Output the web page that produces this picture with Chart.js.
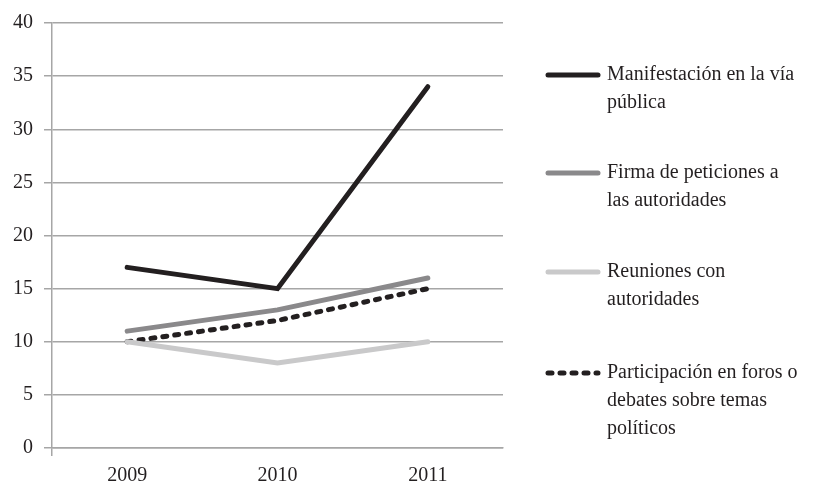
<!DOCTYPE html>
<html>
<head>
<meta charset="utf-8">
<script src="https://cdn.jsdelivr.net/npm/chart.js@4.4.1/dist/chart.umd.min.js"></script>
<style>
  html, body { margin: 0; padding: 0; background: #fff; }
  #wrap { width: 832px; height: 488px; }
</style>
</head>
<body>
<div id="wrap"><canvas id="chartLines"></canvas></div>
<script>
const years = ['2009', '2010', '2011'];

const manifestacion = [17, 15, 34];
const firma = [11, 13, 16];
const reuniones = [10, 8, 10];
const participacion = [10, 12, 15];

const seriesLabels = [
    ['Manifestación en la vía', 'pública'],
    ['Firma de peticiones a', 'las autoridades'],
    ['Reuniones con', 'autoridades'],
    ['Participación en foros o', 'debates sobre temas', 'políticos']
];

const yTicks = [0, 5, 10, 15, 20, 25, 30, 35, 40];

const fontFamily = '"Liberation Serif", "DejaVu Serif", serif';
const textColor = '#231f20';
const gridColor = '#a6a6a6';

// legend drawn by hand, because the labels wrap over several lines
const sideLegend = {
    id: 'sideLegend',
    afterDraw(chart) {
        const ctx = chart.ctx;
        const tops = [75, 173, 272, 373];
        ctx.save();
        ctx.font = '20px ' + fontFamily;
        ctx.textBaseline = 'middle';
        ctx.fillStyle = textColor;
        chart.data.datasets.forEach((ds, i) => {
            const y = tops[i];
            ctx.beginPath();
            ctx.lineWidth = ds.borderWidth;
            ctx.strokeStyle = ds.borderColor;
            ctx.lineCap = ds.borderCapStyle || 'butt';
            ctx.setLineDash(ds.borderDash || []);
            ctx.moveTo(548, y);
            ctx.lineTo(598, y);
            ctx.stroke();
            ctx.setLineDash([]);
            ds.label.forEach((line, j) => {
                ctx.fillText(line, 607, y + j * 28);
            });
        });
        ctx.restore();
    }
};

const configLines = {
    type: 'line',
    data: {
        labels: years,
        datasets: [
            {
                label: seriesLabels[0],
                data: manifestacion,
                borderColor: '#231f20',
                borderWidth: 5,
                borderCapStyle: 'round'
            },
            {
                label: seriesLabels[1],
                data: firma,
                borderColor: '#8a898b',
                borderWidth: 5,
                borderCapStyle: 'round'
            },
            {
                label: seriesLabels[2],
                data: reuniones,
                borderColor: '#c9c9ca',
                borderWidth: 5,
                borderCapStyle: 'round'
            },
            {
                label: seriesLabels[3],
                data: participacion,
                borderColor: '#231f20',
                borderWidth: 5,
                borderCapStyle: 'round',
                borderDash: [4, 8]
            }
        ]
    },
    options: {
        responsive: true,
        maintainAspectRatio: false,
        animation: false,
        events: [],
        elements: {
            point: { radius: 0 },
            line: { tension: 0, borderJoinStyle: 'miter' }
        },
        layout: {
            padding: { top: 22, right: 329, left: 0, bottom: 0 }
        },
        plugins: {
            legend: { display: false },
            tooltip: { enabled: false }
        },
        scales: {
            x: {
                offset: true,
                afterFit: s => { s.height = 40; },
                border: { color: gridColor, width: 1.5 },
                grid: {
                    offset: true,
                    drawOnChartArea: false,
                    tickLength: 8,
                    color: c => (c.index === 0 || c.index === years.length) ? gridColor : 'rgba(0,0,0,0)',
                    lineWidth: 1.5
                },
                ticks: {
                    color: textColor,
                    font: { family: fontFamily, size: 20 },
                    padding: 8
                }
            },
            y: {
                min: 0,
                max: 40,
                afterFit: s => { s.width = 52; },
                afterBuildTicks: s => { s.ticks = yTicks.map(v => ({ value: v })); },
                border: { color: gridColor, width: 1.5 },
                grid: {
                    color: gridColor,
                    lineWidth: 1.5,
                    tickLength: 8
                },
                ticks: {
                    color: textColor,
                    font: { family: fontFamily, size: 20 },
                    padding: 11
                }
            }
        }
    },
    plugins: [sideLegend]
};

const chartLines = new Chart(document.getElementById('chartLines'), configLines);
</script>
</body>
</html>
